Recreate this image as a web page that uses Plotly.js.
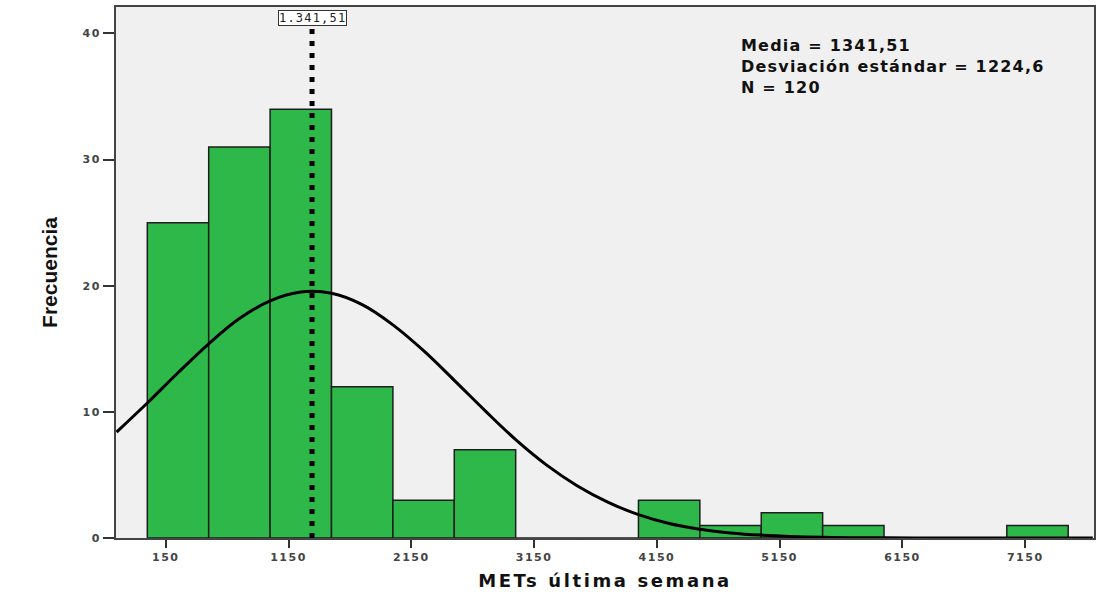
<!DOCTYPE html>
<html>
<head>
<meta charset="utf-8">
<script src="https://cdn.plot.ly/plotly-3.0.1.min.js"></script>
<style>
  html, body { margin: 0; padding: 0; background: #ffffff; }
  #chart { width: 1113px; height: 614px; }
  .xtick text, .ytick text { letter-spacing: 1.5px; }
  .g-xtitle text { letter-spacing: 2.6px; }
  .annotation-text { letter-spacing: 1.2px; }
</style>
</head>
<body>
<div id="chart"></div>
<script>
// ---- data ----
const binCenters = [250, 750, 1250, 1750, 2250, 2750, 3250, 3750, 4250, 4750, 5250, 5750, 6250, 6750, 7250];
const counts     = [25, 31, 34, 12, 3, 7, 0, 0, 3, 1, 2, 1, 0, 0, 1];
const binWidth = 500;

const curveX = [-250, 0, 250, 500, 750, 1000, 1250, 1500, 1750, 2000, 2250, 2500, 2750, 3000, 3250, 3500, 3750, 4000, 4250, 4500, 4750, 5000, 5500, 6000, 6500, 7000, 7700];
const curveY = [8.4, 10.7, 13.1, 15.4, 17.4, 18.8, 19.5, 19.4, 18.5, 16.9, 14.85, 12.5, 10.1, 7.8, 5.8, 4.15, 2.85, 1.85, 1.15, 0.7, 0.4, 0.23, 0.06, 0.01, 0, 0, 0];

const meanValue = 1341.51;
const meanLabel = "1.341,51";
const statsLines = ["Media = 1341,51", "Desviación estándar = 1224,6", "N = 120"];

const xTicks = [150, 1150, 2150, 3150, 4150, 5150, 6150, 7150];
const yTicks = [0, 10, 20, 30, 40];

const traces = [
  {
    type: 'bar',
    x: binCenters,
    y: counts,
    width: binCenters.map(() => binWidth),
    marker: { color: 'rgb(46,184,74)', line: { color: '#1e1e1e', width: 1.5 } },
    hoverinfo: 'x+y'
  },
  {
    type: 'scatter',
    mode: 'lines',
    x: curveX,
    y: curveY,
    line: { color: '#000000', width: 3, shape: 'spline', smoothing: 1 },
    hoverinfo: 'skip'
  }
];

const tickFont = { family: 'DejaVu Sans, Verdana, sans-serif', size: 11, color: '#444444', weight: 'bold' };

const layout = {
  width: 1113,
  height: 614,
  margin: { l: 116, r: 19, t: 7, b: 76 },
  paper_bgcolor: '#ffffff',
  plot_bgcolor: '#f0f0f0',
  showlegend: false,
  bargap: 0,
  xaxis: {
    range: [-255, 7710],
    tickvals: xTicks,
    ticktext: xTicks.map(String),
    ticks: 'outside',
    ticklen: 8,
    tickwidth: 2,
    tickcolor: '#333333',
    tickfont: tickFont,
    showgrid: false,
    zeroline: false,
    showline: true,
    linecolor: '#444444',
    linewidth: 2,
    mirror: true,
    title: { text: 'METs última semana', font: { family: 'DejaVu Sans, Verdana, sans-serif', size: 18, color: '#111111', weight: 'bold' }, standoff: 11 }
  },
  yaxis: {
    range: [0, 42.1],
    tickvals: yTicks,
    ticks: 'outside',
    ticklen: 11,
    tickwidth: 2,
    tickcolor: '#333333',
    tickfont: tickFont,
    showgrid: false,
    zeroline: false,
    showline: true,
    linecolor: '#444444',
    linewidth: 2,
    mirror: true,
    title: { text: 'Frecuencia', font: { family: 'Liberation Sans Narrow, Arial Narrow, Liberation Sans, sans-serif', size: 21, color: '#111111', weight: 'bold' }, standoff: 19 }
  },
  shapes: [
    {
      type: 'line', xref: 'x', yref: 'paper',
      x0: meanValue, x1: meanValue, y0: 0, y1: 0.968,
      line: { color: '#000000', width: 5, dash: '5px,7px' }
    }
  ],
  annotations: [
    {
      xref: 'x', yref: 'paper', x: meanValue, y: 1, xanchor: 'center', yanchor: 'top', yshift: -3,
      text: meanLabel, showarrow: false,
      font: { family: 'DejaVu Sans Mono, monospace', size: 12, color: '#222222' },
      bgcolor: '#ffffff', bordercolor: '#333333', borderwidth: 1, borderpad: 0
    },
    {
      xref: 'paper', yref: 'paper', x: 0.637, y: 0.95, xanchor: 'left', yanchor: 'top',
      text: statsLines.join('<br>'), align: 'left', showarrow: false,
      font: { family: 'DejaVu Sans, Verdana, sans-serif', size: 16, color: '#111111', weight: 'bold' }
    }
  ]
};

Plotly.newPlot('chart', traces, layout, { displayModeBar: false, staticPlot: true });
</script>
</body>
</html>
